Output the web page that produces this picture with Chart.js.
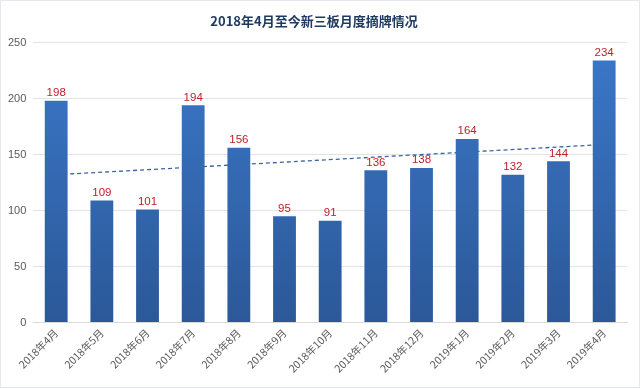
<!DOCTYPE html>
<html>
<head>
<meta charset="utf-8">
<script src="https://cdn.jsdelivr.net/npm/chart.js@4"></script>
<style>
  html, body { margin: 0; padding: 0; background: #fff; }
  #wrap { width: 640px; height: 388px; box-sizing: border-box; border: 1px solid #e4e7ec; }
  canvas { display: block; }
</style>
</head>
<body>
<div id="wrap"><canvas id="delist-chart" width="638" height="386"></canvas></div>
<script>
const ctx = document.getElementById('delist-chart');

// Months on the x-axis
const months = ['2018年4月', '2018年5月', '2018年6月', '2018年7月', '2018年8月', '2018年9月', '2018年10月',
    '2018年11月', '2018年12月', '2019年1月', '2019年2月', '2019年3月', '2019年4月'];

// Delisted companies per month
const delisted = [198, 109, 101, 194, 156, 95, 91, 136, 138, 164, 132, 144, 234];

// Trend line: only the two end points, gaps spanned
const trend = [132, null, null, null, null, null, null, null, null, null, null, null, 159];

const yTicks = [0, 50, 100, 150, 200, 250];

// red value labels above each bar
const barLabels = {
    id: 'barLabels',
    afterDatasetsDraw(chart) {
        const c = chart.ctx;
        const meta = chart.getDatasetMeta(0);
        c.save();
        c.font = '11.5px "Liberation Sans", Arial, sans-serif';
        c.fillStyle = '#c0202a';
        c.textAlign = 'center';
        c.textBaseline = 'bottom';
        meta.data.forEach((bar, i) => {
            c.fillText(delisted[i], bar.x, bar.y - 2);
        });
        c.restore();
    }
};

function barGradient(context) {
    const area = context.chart.chartArea;
    if (!area) return '#3370bb';
    const g = context.chart.ctx.createLinearGradient(0, area.top, 0, area.bottom);
    g.addColorStop(0, '#3b78c9');
    g.addColorStop(1, '#2b5898');
    return g;
}

const delistChart = new Chart(ctx, {
    data: {
        labels: months,
        datasets: [{
            type: 'bar',
            data: delisted,
            backgroundColor: barGradient,
            borderWidth: 0,
            categoryPercentage: 1,
            barPercentage: 0.5,
            order: 0
        }, {
            type: 'line',
            data: trend,
            spanGaps: true,
            borderColor: '#3d64a0',
            borderWidth: 1.3,
            borderDash: [4, 3],
            pointRadius: 0,
            fill: false,
            order: 1
        }]
    },
    plugins: [barLabels],
    options: {
        responsive: false,
        animation: false,
        layout: { padding: { left: 0, right: 12, top: 4, bottom: 8 } },
        plugins: {
            legend: { display: false },
            tooltip: { enabled: false },
            title: {
                display: true,
                text: '2018年4月至今新三板月度摘牌情况',
                color: '#1f3a60',
                font: { size: 13, weight: 'bold', family: '"Noto Sans CJK SC", sans-serif' },
                padding: { top: 8, bottom: 14 }
            }
        },
        scales: {
            x: {
                grid: { display: false, drawTicks: false },
                border: { color: '#d9d9d9' },
                ticks: {
                    color: '#595959',
                    font: { size: 10.5, family: '"Noto Sans CJK SC", sans-serif' },
                    autoSkip: false,
                    maxRotation: 45,
                    minRotation: 45,
                    padding: 4
                }
            },
            y: {
                min: 0,
                max: 250,
                afterBuildTicks(axis) {
                    axis.ticks = yTicks.map(v => ({ value: v }));
                },
                grid: { color: '#e3e3e3', drawTicks: false },
                border: { display: false },
                ticks: {
                    color: '#595959',
                    font: { size: 11, family: '"Liberation Sans", Arial, sans-serif' },
                    padding: 7
                }
            }
        }
    }
});
</script>
</body>
</html>
